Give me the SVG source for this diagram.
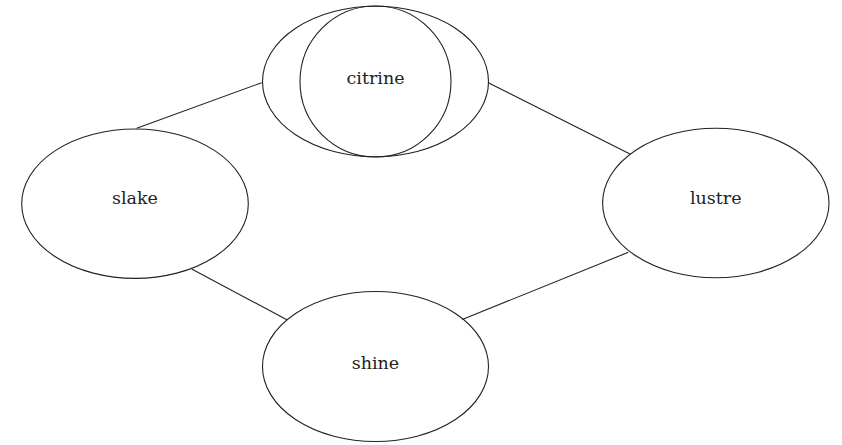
<svg xmlns="http://www.w3.org/2000/svg" width="842" height="445" viewBox="0 0 842 445">
  <style>
    .node ellipse, .node circle { fill: none; stroke: #222; stroke-width: 1.1; }
    .node text { font-family: "DejaVu Serif", "Liberation Serif", serif; font-size: 17.5px; fill: #222; text-anchor: middle; }
    .edges line { stroke: #222; stroke-width: 1.1; }
  </style>
  <rect width="842" height="445" fill="#fff"/>
  <g class="edges" id="edges">
    <line x1="136.7" y1="128.3" x2="261.7" y2="82.7"/>
    <line x1="488.3" y1="82.7" x2="630" y2="154"/>
    <line x1="191.7" y1="269" x2="287.3" y2="320"/>
    <line x1="462.3" y1="319.5" x2="628.3" y2="252.3"/>
  </g>
  <g class="node" id="citrine">
    <ellipse cx="375.5" cy="81.5" rx="113" ry="75.3"/>
    <circle cx="375.5" cy="81.5" r="75.5"/>
    <text x="375.5" y="83.5">citrine</text>
  </g>
  <g class="node" id="slake">
    <ellipse cx="135" cy="203.7" rx="113.3" ry="74.7"/>
    <text x="135" y="203.5">slake</text>
  </g>
  <g class="node" id="lustre">
    <ellipse cx="715.8" cy="203" rx="113.2" ry="74.7"/>
    <text x="715.8" y="203.5">lustre</text>
  </g>
  <g class="node" id="shine">
    <ellipse cx="375.5" cy="366.5" rx="113" ry="75"/>
    <text x="375.5" y="369">shine</text>
  </g>
</svg>
